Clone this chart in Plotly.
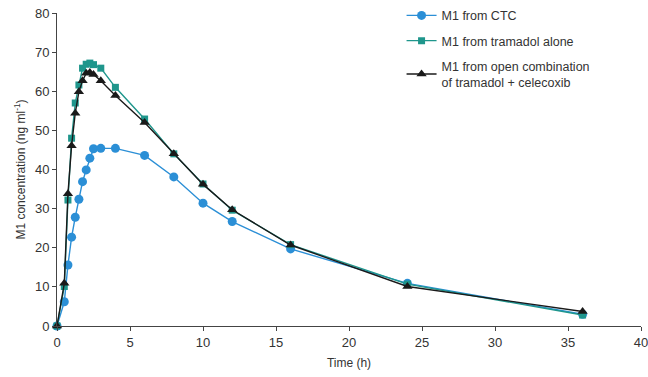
import plotly.graph_objects as go

time_h = [0, 0.5, 0.75, 1, 1.25, 1.5, 1.75, 2, 2.25, 2.5, 3, 4, 6, 8, 10, 12, 16, 24, 36]
m1_ctc = [0, 6.2, 15.6, 22.7, 27.8, 32.4, 36.9, 39.9, 42.9, 45.3, 45.4, 45.4, 43.6, 38.1, 31.4, 26.7, 19.7, 10.9, 3.0]
m1_tramadol = [0, 10.1, 32.2, 48.0, 57.0, 61.6, 65.9, 66.9, 67.2, 66.8, 65.9, 61.0, 52.9, 44.0, 36.3, 29.6, 20.8, 10.7, 2.8]
m1_open_combo = [0, 10.9, 33.8, 46.1, 54.4, 59.9, 62.7, 64.6, 64.8, 64.3, 62.7, 58.9, 52.0, 44.0, 36.2, 29.7, 20.7, 10.1, 3.7]

names = ["M1 from CTC", "M1 from tramadol alone", "M1 from open combination<br>of tramadol + celecoxib"]
colors = ["#2b8fd6", "#1f968c", "#1a1a1a"]
symbols = ["circle", "square", "triangle-up"]
sizes = [9, 7, 9]

fig = go.Figure()
for i, ys in enumerate([m1_ctc, m1_tramadol, m1_open_combo]):
    fig.add_trace(go.Scatter(
        x=time_h, y=ys, mode="lines+markers", name=names[i],
        legendgroup=f"g{i}",
        line=dict(color=colors[i], width=1.4),
        marker=dict(symbol=symbols[i], size=sizes[i], color=colors[i]),
        cliponaxis=False,
    ))

axis_common = dict(
    showline=True, linecolor="#444", linewidth=1,
    ticks="outside", ticklen=4, tickcolor="#444",
    showgrid=False, zeroline=False, automargin=False,
    tickfont=dict(size=13, color="#333"),
    ticklabeloverflow="allow",
)
fig.update_xaxes(range=[0, 40], tickvals=[0, 5, 10, 15, 20, 25, 30, 35, 40],
                 title=dict(text="Time (h)", font=dict(size=12, color="#333"), standoff=10),
                 **axis_common)
fig.update_yaxes(range=[0, 80], tickvals=[0, 10, 20, 30, 40, 50, 60, 70, 80],
                 title=dict(text="M1 concentration (ng ml<sup>-1</sup>)", font=dict(size=12, color="#333"), standoff=6),
                 **axis_common)

fig.update_layout(
    template="none",
    width=648, height=377,
    margin=dict(l=57, r=7, t=13, b=51, autoexpand=False),
    paper_bgcolor="white", plot_bgcolor="white",
    font=dict(family="Liberation Sans, Arial, sans-serif", color="#333"),
    legend=dict(x=0.59, xref="paper", y=0.998, yref="container",
                xanchor="left", yanchor="top",
                font=dict(size=12.5, color="#333"), tracegroupgap=6,
                itemwidth=30, bgcolor="rgba(0,0,0,0)"),
)

fig.write_html("out.html", post_script="document.body.style.margin='0';",
               config={"displayModeBar": False})
